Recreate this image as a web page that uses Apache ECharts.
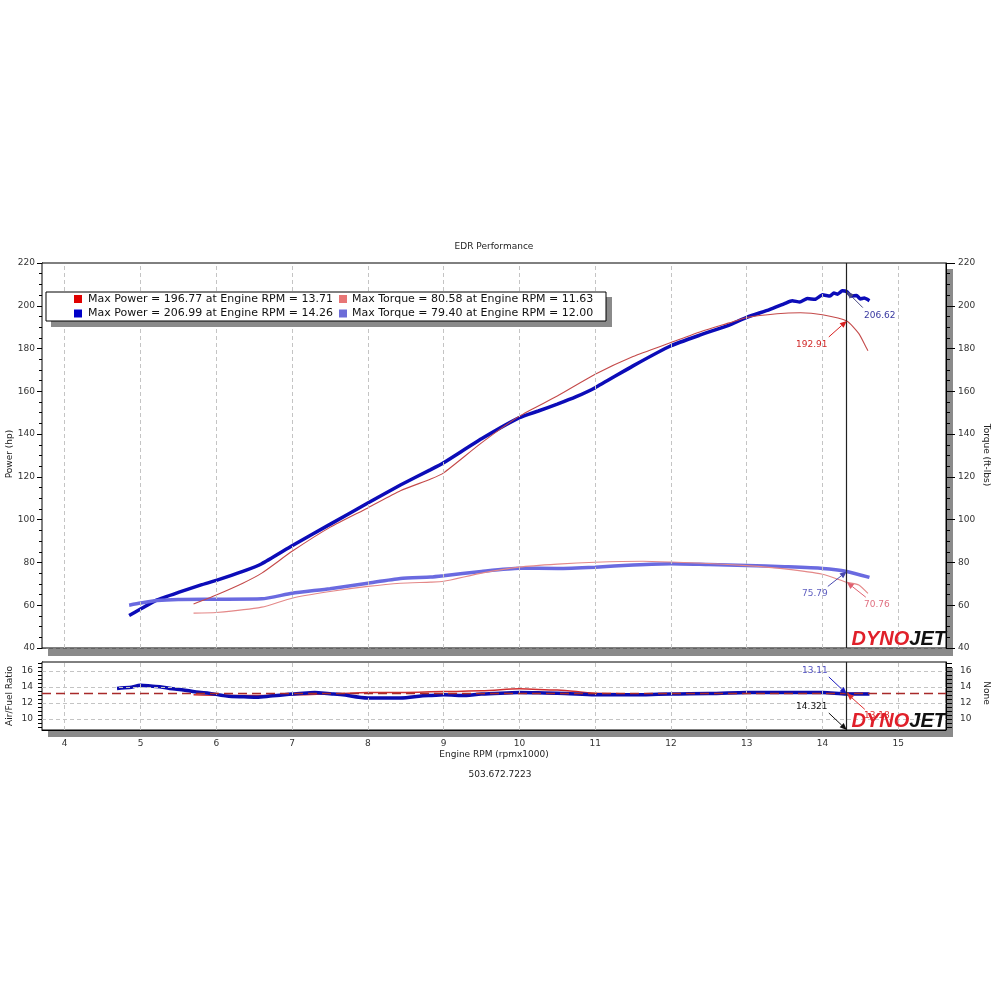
<!DOCTYPE html>
<html><head><meta charset="utf-8">
<script src="https://cdn.jsdelivr.net/npm/echarts@6/dist/echarts.min.js"></script>
<style>html,body{margin:0;padding:0;background:#fff}#c{width:1000px;height:1000px}</style>
</head><body><div id="c"></div>
<script>
// ---------------- DATA ----------------
// Run 1 (red) and run 2 (blue), engine rpm x1000
const redPowerRpm = [5.7, 6.0, 6.35, 6.6, 7.0, 7.5, 8.0, 8.43, 8.83, 9.0, 9.5, 10.0, 10.5, 11.0, 11.5, 12.0, 12.4, 12.77, 13.0, 13.4, 13.71, 14.0, 14.32, 14.48, 14.57, 14.6];
const redPower    = [60.6, 64.8, 70.3, 75.0, 85.2, 96.4, 105.5, 113.5, 119.0, 121.9, 135.9, 148.4, 157.8, 168.0, 176.3, 182.8, 188.0, 192.0, 194.5, 196.3, 196.77, 195.8, 192.91, 187.0, 181.0, 179.0];

const bluePowerRpm = [4.85, 5.0, 5.22, 5.5, 5.8, 6.0, 6.35, 6.6, 7.0, 7.5, 8.0, 8.43, 8.83, 9.0, 9.5, 10.0, 10.25, 10.5, 10.75, 11.0, 11.5, 12.0, 12.4, 12.77, 13.0, 13.3, 13.5, 13.6, 13.7, 13.8, 13.9, 14.0, 14.1, 14.15, 14.2, 14.26, 14.32, 14.38, 14.45, 14.5, 14.55, 14.62];
const bluePower    = [55.2, 58.2, 62.5, 66.0, 69.5, 71.6, 75.8, 79.4, 87.8, 97.8, 107.8, 116.2, 123.4, 126.6, 137.8, 147.7, 150.8, 154.0, 157.5, 161.7, 171.9, 181.3, 186.5, 191.0, 194.6, 198.2, 201.0, 202.3, 201.8, 203.4, 203.0, 205.1, 204.6, 206.0, 205.4, 206.99, 206.62, 204.6, 204.8, 203.2, 203.6, 202.4];

const redTorqueRpm = [5.7, 6.0, 6.6, 7.0, 7.5, 8.0, 8.43, 8.83, 9.0, 9.5, 10.0, 10.5, 11.0, 11.63, 12.0, 12.5, 13.0, 13.5, 14.0, 14.32, 14.48, 14.6];
const redTorque    = [56.3, 56.6, 59.1, 63.3, 66.4, 68.8, 70.3, 70.8, 71.2, 75.0, 77.8, 79.2, 80.1, 80.58, 80.2, 79.5, 78.5, 77.0, 74.5, 70.76, 69.5, 65.5];

const blueTorqueRpm = [4.85, 5.0, 5.22, 5.5, 6.0, 6.6, 7.0, 7.5, 8.0, 8.43, 8.83, 9.0, 9.5, 10.0, 10.5, 11.0, 11.5, 12.0, 12.5, 13.0, 13.5, 14.0, 14.32, 14.62];
const blueTorque    = [60.0, 61.0, 62.2, 62.7, 62.8, 63.0, 65.6, 67.7, 70.3, 72.5, 73.2, 73.8, 75.8, 77.3, 77.2, 77.8, 78.8, 79.4, 79.0, 78.6, 78.0, 77.2, 75.79, 73.0];

const redAfrRpm = [5.7, 6.0, 6.5, 7.0, 7.5, 8.0, 8.5, 9.0, 9.5, 10.0, 10.5, 11.0, 11.5, 12.0, 13.0, 14.0, 14.32, 14.6];
const redAfr    = [13.0, 12.95, 12.9, 13.0, 13.1, 13.3, 13.3, 13.4, 13.5, 13.75, 13.6, 13.2, 13.1, 13.1, 13.2, 13.25, 13.18, 13.2];

const blueAfrRpm = [4.69, 4.85, 5.0, 5.2, 5.48, 5.8, 6.2, 6.53, 6.8, 7.0, 7.3, 7.55, 8.0, 8.43, 8.8, 9.0, 9.3, 9.5, 10.0, 10.5, 11.0, 11.5, 12.0, 12.5, 13.0, 13.5, 14.0, 14.32, 14.62];
const blueAfr    = [13.8, 13.9, 14.2, 14.05, 13.7, 13.3, 12.8, 12.7, 12.9, 13.1, 13.3, 13.1, 12.6, 12.6, 12.9, 13.0, 12.9, 13.1, 13.3, 13.2, 13.0, 13.0, 13.1, 13.15, 13.3, 13.3, 13.3, 13.11, 13.1];

const afrTarget = 13.2;
const cursorRpm = 14.321;

const legendRows = [
  ['Max Power = 196.77 at Engine RPM = 13.71', 'Max Torque = 80.58 at Engine RPM = 11.63'],
  ['Max Power = 206.99 at Engine RPM = 14.26', 'Max Torque = 79.40 at Engine RPM = 12.00']
];

const rpmTickLabels = [4, 5, 6, 7, 8, 9, 10, 11, 12, 13, 14, 15];
const powerTicks = [40, 60, 80, 100, 120, 140, 160, 180, 200, 220];
const afrTickLabels = [10, 12, 14, 16];
const afrMinorTicks = [9, 9.5, 10, 10.5, 11, 11.5, 12, 12.5, 13, 13.5, 14, 14.5, 15, 15.5, 16, 16.5, 17];
const rpmMinorTicks = [];
for (let i = 0; i <= 59; i++) rpmMinorTicks.push(Math.round((3.8 + i * 0.2) * 10) / 10);

// ---------------- CHART ----------------
const FONT = "'DejaVu Sans', sans-serif";
const zip = (a, b) => a.map((v, i) => [v, b[i]]);
const GRID_DASH = { color: '#c4c4c4', type: [4, 3], width: 1 };

function vGrid() {
  return rpmTickLabels.map(v => ({ xAxis: v, lineStyle: GRID_DASH }));
}

const chart = echarts.init(document.getElementById('c'), null, { renderer: 'canvas' });

const option = {
  animation: false,
  backgroundColor: '#fff',
  grid: [
    { left: 42, top: 263, width: 904, height: 385, show: true, backgroundColor: '#fff', borderColor: '#000', borderWidth: 1, z: 1 },
    { left: 42, top: 662, width: 904, height: 68, show: true, backgroundColor: '#fff', borderColor: '#000', borderWidth: 1, z: 1 }
  ],
  xAxis: [
    { type: 'value', gridIndex: 0, min: 3.7, max: 15.63, show: false },
    { type: 'value', gridIndex: 1, min: 3.7, max: 15.63, position: 'bottom',
      axisLine: { show: true, lineStyle: { color: '#000', width: 1 } },
      axisTick: { show: true, inside: true, length: 6, customValues: rpmMinorTicks, lineStyle: { color: '#000' } },
      axisLabel: { show: true, customValues: rpmTickLabels, margin: 9, fontSize: 9, fontFamily: FONT, color: '#333' },
      splitLine: { show: false } }
  ],
  yAxis: [
    { type: 'value', gridIndex: 0, position: 'left', min: 40, max: 220, interval: 20,
      axisLine: { show: true, lineStyle: { color: '#000' } },
      axisTick: { show: true, length: 5, lineStyle: { color: '#000' } },
      minorTick: { show: true, splitNumber: 4, length: 3, lineStyle: { color: '#000' } },
      axisLabel: { margin: 7, fontSize: 9, fontFamily: FONT, color: '#333' },
      splitLine: { show: true, lineStyle: GRID_DASH } },
    { type: 'value', gridIndex: 0, position: 'right', min: 40, max: 220, interval: 20,
      axisLine: { show: true, lineStyle: { color: '#000' } },
      axisTick: { show: true, length: 9, lineStyle: { color: '#000' } },
      minorTick: { show: true, splitNumber: 4, length: 4, lineStyle: { color: '#000' } },
      axisLabel: { margin: 12, fontSize: 9, fontFamily: FONT, color: '#333' },
      splitLine: { show: false } },
    { type: 'value', gridIndex: 1, position: 'left', min: 8.6, max: 17.1,
      axisLine: { show: true, lineStyle: { color: '#000' } },
      axisTick: { show: true, length: 4, customValues: afrMinorTicks, lineStyle: { color: '#000' } },
      axisLabel: { customValues: afrTickLabels, margin: 9, fontSize: 9, fontFamily: FONT, color: '#333' },
      splitLine: { show: false } },
    { type: 'value', gridIndex: 1, position: 'right', min: 8.6, max: 17.1,
      axisLine: { show: true, lineStyle: { color: '#000' } },
      axisTick: { show: true, length: 6, customValues: afrMinorTicks, lineStyle: { color: '#000' } },
      axisLabel: { customValues: afrTickLabels, margin: 14, fontSize: 9, fontFamily: FONT, color: '#333' },
      splitLine: { show: false } }
  ],
  series: [
    { name: 'bluePower', type: 'line', xAxisIndex: 0, yAxisIndex: 0, data: zip(bluePowerRpm, bluePower),
      showSymbol: false, smooth: 0.15, lineStyle: { color: '#0c0cb8', width: 3.5 }, z: 3,
      markLine: { silent: true, symbol: 'none', label: { show: false },
        data: vGrid().concat([{ xAxis: cursorRpm, lineStyle: { color: '#222', width: 1.2, type: 'solid' } }]) } },
    { name: 'blueTorque', type: 'line', xAxisIndex: 0, yAxisIndex: 1, data: zip(blueTorqueRpm, blueTorque),
      showSymbol: false, smooth: 0.2, lineStyle: { color: '#6a6ae0', width: 3.5 }, z: 3 },
    { name: 'redPower', type: 'line', xAxisIndex: 0, yAxisIndex: 0, data: zip(redPowerRpm, redPower),
      showSymbol: false, smooth: 0.2, lineStyle: { color: '#c44a4a', width: 1.1 }, z: 4 },
    { name: 'redTorque', type: 'line', xAxisIndex: 0, yAxisIndex: 1, data: zip(redTorqueRpm, redTorque),
      showSymbol: false, smooth: 0.2, lineStyle: { color: '#e48888', width: 1.1 }, z: 4 },
    { name: 'redAfr', type: 'line', xAxisIndex: 1, yAxisIndex: 2, data: zip(redAfrRpm, redAfr),
      showSymbol: false, smooth: 0.3, smoothMonotone: 'x', lineStyle: { color: '#d03030', width: 1.5 }, z: 3,
      markLine: { silent: true, symbol: 'none', label: { show: false },
        data: vGrid().concat(afrTickLabels.map(v => ({ yAxis: v, lineStyle: GRID_DASH })))
          .concat([{ yAxis: afrTarget, lineStyle: { color: '#a82a2a', width: 1.3, type: [9, 5] } },
                   { xAxis: cursorRpm, lineStyle: { color: '#222', width: 1.2, type: 'solid' } }]) } },
    { name: 'blueAfr', type: 'line', xAxisIndex: 1, yAxisIndex: 2, data: zip(blueAfrRpm, blueAfr),
      showSymbol: false, smooth: 0.3, smoothMonotone: 'x', lineStyle: { color: '#0c0cb0', width: 3.5 }, z: 4 }
  ]
};
chart.setOption(option);

// ---------------- DECORATION (graphic) ----------------
const g = [];
const SH = '#8a8a8a';
// drop shadows of the two panels
g.push({ type: 'rect', shape: { x: 48, y: 649, width: 905, height: 7 }, style: { fill: SH }, z: -5 });
g.push({ type: 'rect', shape: { x: 947, y: 269, width: 6, height: 387 }, style: { fill: SH }, z: -5 });
g.push({ type: 'rect', shape: { x: 48, y: 731, width: 905, height: 6 }, style: { fill: SH }, z: -5 });
g.push({ type: 'rect', shape: { x: 947, y: 668, width: 6, height: 69 }, style: { fill: SH }, z: -5 });

// texts
const T = (text, x, y, opt) => Object.assign({ type: 'text', x, y, z: 50,
  style: Object.assign({ text, fill: '#222', font: '9px ' + FONT, textAlign: 'center', textVerticalAlign: 'middle' }, opt || {}) });
g.push(T('EDR Performance', 494, 247));
g.push(T('Engine RPM (rpmx1000)', 494, 755));
g.push(T('503.672.7223', 500, 775));
g.push(Object.assign(T('Power (hp)', 10, 454), { rotation: Math.PI / 2 }));
g.push(Object.assign(T('Air/Fuel Ratio', 10, 696), { rotation: Math.PI / 2 }));
g.push(Object.assign(T('Torque (ft-lbs)', 986, 455), { rotation: -Math.PI / 2 }));
g.push(Object.assign(T('None', 986, 693), { rotation: -Math.PI / 2 }));

// legend box
g.push({ type: 'rect', shape: { x: 51, y: 297, width: 561, height: 30 }, style: { fill: SH }, z: 40 });
g.push({ type: 'rect', shape: { x: 46, y: 292, width: 560, height: 29 }, style: { fill: '#fff', stroke: '#000', lineWidth: 1 }, z: 41 });
const legendColors = [['#e00000', '#e87676'], ['#0000c8', '#6c6cd8']];
const legendX = [[74, 88], [339, 352]];
const legendY = [299, 313.5];
legendRows.forEach((row, r) => row.forEach((txt, c) => {
  g.push({ type: 'rect', shape: { x: legendX[c][0], y: legendY[r] - 4, width: 8, height: 8 }, style: { fill: legendColors[r][c] }, z: 42 });
  g.push({ type: 'text', x: legendX[c][1], y: legendY[r], z: 42,
    style: { text: txt, fill: '#111', font: '11px ' + FONT, textAlign: 'left', textVerticalAlign: 'middle' } });
}));

// cursor readouts
const P0 = v => chart.convertToPixel({ xAxisIndex: 0, yAxisIndex: 0 }, [cursorRpm, v]);
const P1 = v => chart.convertToPixel({ xAxisIndex: 1, yAxisIndex: 2 }, [cursorRpm, v]);
function arrow(p, tail, color) {
  const dx = p[0] - tail[0], dy = p[1] - tail[1];
  const L = Math.hypot(dx, dy), ux = dx / L, uy = dy / L;
  const hl = 7, hw = 3;
  const bx = p[0] - ux * hl, by = p[1] - uy * hl;
  g.push({ type: 'line', z: 45, shape: { x1: tail[0], y1: tail[1], x2: bx, y2: by }, style: { stroke: color, lineWidth: 1 } });
  g.push({ type: 'polygon', z: 45, shape: { points: [[p[0], p[1]], [bx - uy * hw, by + ux * hw], [bx + uy * hw, by - ux * hw]] }, style: { fill: color } });
}
const notes = [
  { text: '206.62', p: P0(206.62), l: [33, 24], a: [16, 16], tc: '#3838a0', ac: '#4a4a80' },
  { text: '192.91', p: P0(192.91), l: [-35, 24], a: [-18, 16], tc: '#d02828', ac: '#d82020' },
  { text: '75.79', p: P0(75.79), l: [-32, 22], a: [-19, 15], tc: '#6060c0', ac: '#4848b0' },
  { text: '70.76', p: P0(70.76), l: [30, 22], a: [19, 15], tc: '#e07080', ac: '#e06070' },
  { text: '13.11', p: P1(13.11), l: [-32, -23], a: [-18, -17], tc: '#5050c0', ac: '#1a1ac0' },
  { text: '14.321', p: P1(8.6), l: [-35, -23], a: [-18, -17], tc: '#111', ac: '#111' },
  { text: '13.18', p: P1(13.18), l: [30, 22], a: [18, 16], tc: '#e03030', ac: '#e03030' }
];
notes.forEach(n => {
  arrow(n.p, [n.p[0] + n.a[0], n.p[1] + n.a[1]], n.ac);
  g.push(T(n.text, n.p[0] + n.l[0], n.p[1] + n.l[1], { fill: n.tc, font: '9px ' + FONT }));
});

// DYNOJET logos
[[946, 648], [946, 730]].forEach(([x, y]) => {
  g.push({ type: 'text', x, y: y + 1, z: 60,
    style: { text: '{a|DYNO}{b|JET}', textAlign: 'right', textVerticalAlign: 'bottom',
      rich: { a: { fill: '#e0202a', font: 'italic 900 20px "Liberation Sans"' }, b: { fill: '#111', font: 'italic 900 20px "Liberation Sans"' } } } });
});

chart.setOption({ graphic: { elements: g } });
</script>
</body></html>
